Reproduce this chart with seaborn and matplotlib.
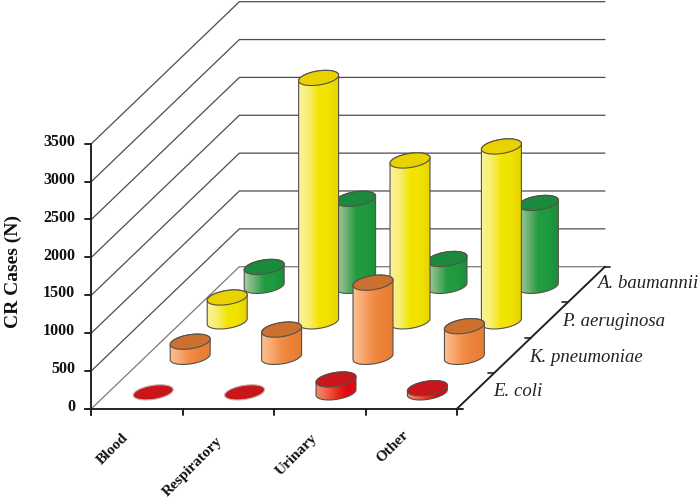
import numpy as np
import matplotlib
matplotlib.use("Agg")
import matplotlib.pyplot as plt
from matplotlib.patches import Polygon
import seaborn as sns

# values
sites = ["Blood", "Respiratory", "Urinary", "Other"]
species = ["E. coli", "K. pneumoniae", "P. aeruginosa", "A. baumannii"]
e_coli = [0, 0, 170, 55]
k_pneumoniae = [200, 360, 980, 405]
p_aeruginosa = [315, 3215, 2125, 2310]
a_baumannii = [250, 1150, 355, 1095]
yticks = [0, 500, 1000, 1500, 2000, 2500, 3000, 3500]

series = [e_coli, k_pneumoniae, p_aeruginosa, a_baumannii]

# top colour and left to right body gradient of each species
top_colors = ["#c8161b", "#cb702e", "#e9d200", "#1b8a3d"]
body_colors = [
    ["#f58a6c", "#f0654a", "#e8311f", "#e30613", "#dc0d16"],
    ["#fcc091", "#f8a76f", "#f08c45", "#ec8137", "#e67e34"],
    ["#fbf29a", "#f8ee70", "#f3e500", "#f0e200", "#e8d400"],
    ["#a9cd9f", "#6fb276", "#239c40", "#1f9a3e", "#1c8f38"],
]
label_pos = [(493, 391), (529, 357), (562, 322), (597, 284)]
site_pos = [(113, 449), (193, 467), (297, 455), (393, 447)]

sns.set_theme(style="white")
plt.rcParams["font.family"] = ["Liberation Serif", "DejaVu Serif"]

# floor and wall geometry in pixels of the 700x503 picture
ORIGIN = (91.4, 408.7)
CAT_W = 91.4
DEPTH = (37.0, -35.5)
PX_PER_UNIT = 265.0 / 3500.0
ELL_A, ELL_B, ELL_TILT = 20.2, 7.0, np.radians(9)


def project(cat, row, val=0.0):
    x = ORIGIN[0] + cat * CAT_W + row * DEPTH[0]
    y = ORIGIN[1] + row * DEPTH[1] - val * PX_PER_UNIT
    return x, y


def ellipse_xy(cx, cy, t):
    x = cx + ELL_A * np.cos(t) * np.cos(ELL_TILT) + ELL_B * np.sin(t) * np.sin(ELL_TILT)
    y = cy - ELL_A * np.cos(t) * np.sin(ELL_TILT) + ELL_B * np.sin(t) * np.cos(ELL_TILT)
    return x, y


def cylinder(ax, cat, row, val, top, body, z):
    cx, cy = project(cat + 0.49, row + 0.46)
    t_top = cy - val * PX_PER_UNIT
    t0 = np.arctan2(ELL_B * np.sin(ELL_TILT), ELL_A * np.cos(ELL_TILT))
    lower = np.linspace(t0, t0 + np.pi, 60)
    upper = np.linspace(t0 + np.pi, t0 + 2 * np.pi, 60)
    if val > 0:
        bx, by = ellipse_xy(cx, cy, lower)
        ux, uy = ellipse_xy(cx, t_top, upper)
        pts = np.column_stack([np.r_[bx, ux], np.r_[by, uy]])
        outline = Polygon(pts, closed=True, facecolor="none", edgecolor="#55504a", lw=0.8, zorder=z + 0.2)
        ax.add_patch(outline)
        cmap = sns.blend_palette(body, as_cmap=True)
        grad = np.linspace(0, 1, 128).reshape(1, -1)
        im = ax.imshow(grad, cmap=cmap, aspect="auto", zorder=z + 0.1,
                       extent=(pts[:, 0].min(), pts[:, 0].max(), pts[:, 1].max(), pts[:, 1].min()))
        im.set_clip_path(outline)
    tx, ty = ellipse_xy(cx, t_top, np.linspace(0, 2 * np.pi, 120))
    edge = "#55504a" if val > 0 else "#c4b8b0"
    ax.add_patch(Polygon(np.column_stack([tx, ty]), closed=True, facecolor=top, edgecolor=edge, lw=0.8, zorder=z + 0.3))


fig = plt.figure(figsize=(7, 5.03), dpi=100)
ax = fig.add_axes([0, 0, 1, 1])

grid_c = "#4d4d4d"
axis_c = "#222222"

# walls: diagonal on the side wall, then flat along the back wall
for v in yticks:
    x0, y0 = project(0, 0, v)
    x1, y1 = project(0, 4, v)
    x2, y2 = project(4, 4, v)
    c = "#7a7a7a" if v == 0 else grid_c
    ax.plot([x0, x1, x2], [y0, y1, y2], color=c, lw=0.9, zorder=1, solid_joinstyle="miter")
    ax.plot([x0 - 6, x0], [y0, y0], color=axis_c, lw=1.4, zorder=2)
    ax.text(75, y0 - 1.7, str(v), ha="right", va="center", fontsize=11.5, fontweight="bold", color="#111111")

# bottom axis, left axis, right floor edge
xa, ya = project(0, 0, 0)
xb, yb = project(4, 0, 0)
xc, yc = project(4, 4, 0)
xt, yt = project(0, 0, 3500)
ax.plot([xa - 6, xb + 6], [ya, yb], color=axis_c, lw=1.4, zorder=2)
ax.plot([xa, xa], [yt, ya + 6], color=axis_c, lw=1.4, zorder=2)
ax.plot([xb, xc], [yb, yc], color=axis_c, lw=1.4, zorder=2)
ax.plot([xc, xc + 5], [yc, yc], color=axis_c, lw=1.2, zorder=2)
for i in range(5):
    x, y = project(i, 0, 0)
    ax.plot([x, x], [y, y + 6], color=axis_c, lw=1.4, zorder=2)
for i in range(1, 4):
    x, y = project(4, i, 0)
    ax.plot([x - 6, x], [y, y], color=axis_c, lw=1.2, zorder=2)

# back row first so the front rows cover it
z = 3
for row in range(3, -1, -1):
    for cat in range(4):
        cylinder(ax, cat, row, series[row][cat], top_colors[row], body_colors[row], z)
        z += 1

for name, (x, y) in zip(species, label_pos):
    ax.text(x, y, name, ha="left", va="center", fontsize=13.5, style="italic", color="#222222")
for name, (x, y) in zip(sites, site_pos):
    ax.text(x, y, name, ha="center", va="center", rotation=45, fontsize=11, fontweight="bold", color="#111111")
ax.text(13, 271, "CR Cases (N)", ha="center", va="center", rotation=90, fontsize=14, fontweight="bold", color="#111111")

ax.set_xlim(0, 700)
ax.set_ylim(503, 0)
ax.axis("off")
fig.savefig("out.png", dpi=100)
